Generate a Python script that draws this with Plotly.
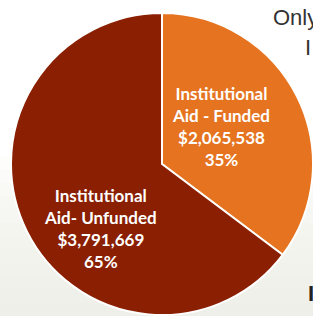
import plotly.graph_objects as go

labels = ["Institutional<br>Aid - Funded", "Institutional<br>Aid- Unfunded"]
values = [2065538, 3791669]
colors = ["#E5731F", "#8A1F02"]

total = sum(values)
fig = go.Figure()
fig.add_trace(go.Pie(
    labels=labels, values=values, sort=False, direction="clockwise", rotation=0,
    marker=dict(colors=colors, line=dict(color="white", width=2)),
    textinfo="none", hoverinfo="label+value+percent", showlegend=False,
    domain=dict(x=[11/313, 1.0], y=[1/316, 303/316]),
))

# slice labels
label_pos = [(221, 126), (101, 228)]
font = dict(family="Lato", size=17, color="white")
for lab, v, (px, py) in zip(labels, values, label_pos):
    pct = round(100 * v / total)
    fig.add_annotation(
        x=px/313, y=1 - py/316, xref="paper", yref="paper",
        text=f"<b>{lab}<br>${v:,}<br>{pct}%</b>",
        showarrow=False, font=font, align="center",
        xanchor="center", yanchor="middle",
    )

# fragments of neighbouring text
fig.add_annotation(x=271/313, y=1 - 18/316, xref="paper", yref="paper", text="Only",
                   showarrow=False, xanchor="left", yanchor="middle",
                   font=dict(family="Liberation Sans", size=22, color="#333333"))
fig.add_annotation(x=303/313, y=1 - 47/316, xref="paper", yref="paper", text="I",
                   showarrow=False, xanchor="left", yanchor="middle",
                   font=dict(family="Liberation Sans", size=22, color="#333333"))
fig.add_annotation(x=306/313, y=1 - 293/316, xref="paper", yref="paper", text="<b>I</b>",
                   showarrow=False, xanchor="left", yanchor="middle",
                   font=dict(family="Liberation Sans", size=22, color="#222222"))

# light background gradient toward the bottom
shapes = []
n = 12
for i in range(n):
    y0 = 316 - 160 + i * 160 / n
    shapes.append(dict(type="rect", xref="paper", yref="paper", x0=0, x1=1,
                       y0=0, y1=1 - y0/316, line=dict(width=0),
                       fillcolor="rgba(236,236,230,0.12)", layer="below"))
fig.update_layout(shapes=shapes)

fig.update_layout(width=313, height=316, margin=dict(l=0, r=0, t=0, b=0),
                  paper_bgcolor="white", plot_bgcolor="white")
fig.write_html("out.html", config={"displayModeBar": False},
               post_script="document.body.style.margin='0';document.body.style.overflow='hidden';")
